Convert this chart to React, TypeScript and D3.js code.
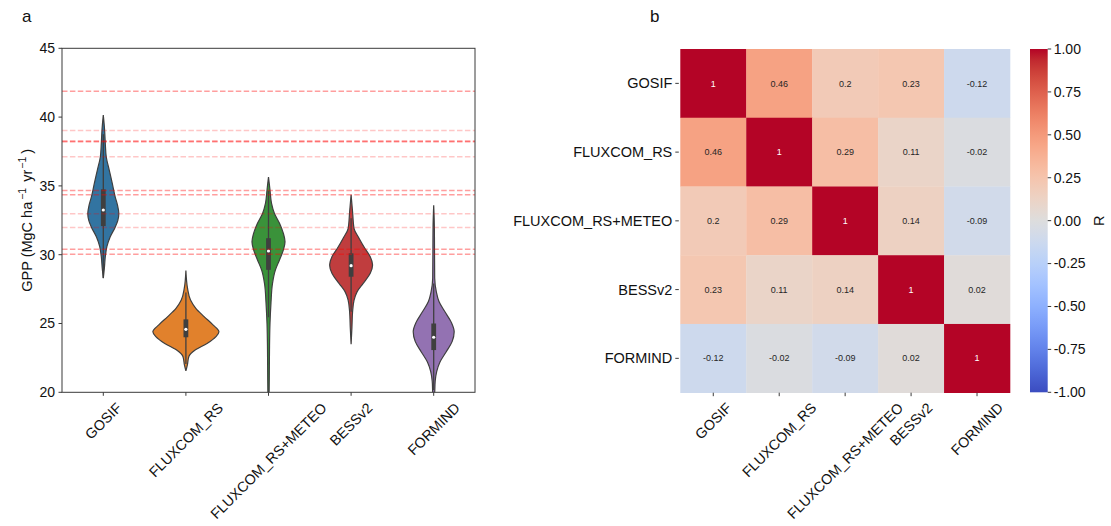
import React, { useEffect, useRef } from "react";
import * as d3 from "d3";

const W = 1111;
const H = 526;
const FONT = "'Liberation Sans', Arial, Helvetica, sans-serif";

// ---------- Panel a: GPP distributions ----------
const models = ["GOSIF", "FLUXCOM_RS", "FLUXCOM_RS+METEO", "BESSv2", "FORMIND"];
const gppTicks = [20, 25, 30, 35, 40, 45];
const violinFills = ["#3274a1", "#e1812c", "#3a923a", "#c03d3e", "#9372b2"];

// Kernel density profiles: [GPP, relative density]
const gosifDensity: [number, number][] = [
  [40.15, 0], [39.05, 0.04], [38.1, 0.06], [37.1, 0.09], [36.15, 0.18], [35.2, 0.27],
  [34.2, 0.36], [33.6, 0.43], [33.0, 0.47], [32.5, 0.44], [32.0, 0.36], [31.3, 0.21],
  [30.6, 0.11], [29.85, 0.06], [29.1, 0.035], [28.3, 0],
];
const fluxcomRsDensity: [number, number][] = [
  [28.85, 0], [27.55, 0.05], [26.7, 0.14], [26.1, 0.3], [25.5, 0.55], [24.9, 0.82],
  [24.4, 1.0], [24.05, 0.91], [23.55, 0.64], [23.05, 0.27], [22.6, 0.09], [22.0, 0.045],
  [21.55, 0],
];
const fluxcomMeteoDensity: [number, number][] = [
  [35.65, 0], [34.7, 0.045], [33.75, 0.09], [33.0, 0.18], [32.3, 0.33], [31.55, 0.45],
  [30.95, 0.5], [30.35, 0.45], [29.6, 0.33], [28.9, 0.21], [27.9, 0.12], [26.5, 0.075],
  [25.0, 0.045], [23.1, 0.03], [21.5, 0.025], [20.2, 0.02], [19.0, 0],
];
const bessDensity: [number, number][] = [
  [34.35, 0], [33.1, 0.045], [31.9, 0.09], [31.2, 0.24], [30.45, 0.42], [29.85, 0.58],
  [29.25, 0.65], [28.65, 0.58], [27.9, 0.36], [27.3, 0.18], [26.7, 0.09], [25.85, 0.045],
  [24.7, 0.025], [23.5, 0],
];
const formindDensity: [number, number][] = [
  [33.6, 0], [32.0, 0.02], [30.0, 0.025], [28.3, 0.03], [27.3, 0.08], [26.6, 0.16],
  [25.85, 0.34], [25.1, 0.53], [24.4, 0.62], [23.7, 0.56], [22.95, 0.38], [22.2, 0.19],
  [21.5, 0.09], [20.8, 0.045], [20.0, 0.03], [19.3, 0],
];
const densities = [gosifDensity, fluxcomRsDensity, fluxcomMeteoDensity, bessDensity, formindDensity];

// Box statistics per model
const quartile1 = [32.08, 24.0, 28.9, 28.4, 23.07];
const medians = [33.25, 24.58, 30.27, 29.2, 24.0];
const quartile3 = [34.75, 25.3, 31.2, 30.1, 25.0];
const whiskerLow = [28.3, 22.05, 25.45, 25.85, 20.17];
const whiskerHigh = [38.75, 27.25, 34.65, 32.65, 27.9];

// Horizontal reference levels (GPP)
const referenceLevelsStrong = [41.87, 38.27, 38.21, 34.66, 34.35, 30.4, 30.04];
const referenceLevelsFaint = [39.02, 37.12, 32.98, 31.97];

// ---------- Panel b: correlation matrix ----------
const corrLabels = ["GOSIF", "FLUXCOM_RS", "FLUXCOM_RS+METEO", "BESSv2", "FORMIND"];
const corrGosif = [1, 0.46, 0.2, 0.23, -0.12];
const corrFluxcomRs = [0.46, 1, 0.29, 0.11, -0.02];
const corrFluxcomMeteo = [0.2, 0.29, 1, 0.14, -0.09];
const corrBess = [0.23, 0.11, 0.14, 1, 0.02];
const corrFormind = [-0.12, -0.02, -0.09, 0.02, 1];
const corrRows = [corrGosif, corrFluxcomRs, corrFluxcomMeteo, corrBess, corrFormind];
const colorbarTicks = [1, 0.75, 0.5, 0.25, 0, -0.25, -0.5, -0.75, -1];

// Diverging "coolwarm" colour map stops
const coolwarm = [
  "#3b4cc0", "#445acc", "#4d68d7", "#5775e1", "#6282ea", "#6c8ef1", "#779af7", "#82a5fb",
  "#8db0fe", "#98b9ff", "#a3c2ff", "#aec9fd", "#b8d0f9", "#c2d5f4", "#ccd9ee", "#d5dbe6",
  "#dddddd", "#e5d8d1", "#ecd3c5", "#f1ccb9", "#f5c4ad", "#f7bba0", "#f7b194", "#f7a687",
  "#f49a7b", "#f18d6f", "#ec7f63", "#e57058", "#de604d", "#d55042", "#cb3e38", "#c0282f",
  "#b40426",
];

const LABEL_SIZE = 14.5;
const ROT_LABEL_SIZE = 14.3;
const TICK_SIZE = 14;

function rotatedLabel(
  g: d3.Selection<SVGGElement, unknown, null, undefined>,
  text: string,
  cx: number,
  top: number,
  size: number
) {
  const t = g
    .append("text")
    .attr("font-size", size)
    .attr("text-anchor", "middle")
    .attr("dominant-baseline", "central")
    .attr("fill", "#111")
    .text(text);
  const w = (t.node() as SVGTextElement).getComputedTextLength();
  const h = size * 0.9;
  const half = (w + h) / (2 * Math.SQRT2);
  t.attr("transform", `translate(${cx},${top + half}) rotate(-45)`);
}

export default function App() {
  const ref = useRef<SVGSVGElement>(null);

  useEffect(() => {
    const svg = d3.select(ref.current as SVGSVGElement);
    svg.selectAll("*").remove();
    svg.attr("font-family", FONT);

    // ================= Panel a =================
    const left = 62, right = 475, top = 48.3, bottom = 392.3;
    const x = d3.scaleBand<string>().domain(models).range([left, right]);
    const y = d3.scaleLinear().domain([20, 45]).range([bottom, top]);
    const halfWidth = d3.scaleLinear().domain([0, 1]).range([0, x.bandwidth() * 0.4]);
    const edge = "#3f3f3f";

    const ga = svg.append("g");
    ga.append("text").attr("x", 22).attr("y", 22).attr("font-size", 17).attr("fill", "#111").text("a");

    const defs = svg.append("defs");
    defs.append("clipPath").attr("id", "plot-a-clip")
      .append("rect").attr("x", left).attr("y", top).attr("width", right - left).attr("height", bottom - top);

    const plot = ga.append("g").attr("clip-path", "url(#plot-a-clip)");

    models.forEach((m, i) => {
      const cx = (x(m) as number) + x.bandwidth() / 2;
      const area = d3
        .area<[number, number]>()
        .y((d) => y(d[0]))
        .x0((d) => cx - halfWidth(d[1]))
        .x1((d) => cx + halfWidth(d[1]))
        .curve(d3.curveMonotoneY);
      plot.append("path")
        .attr("d", area(densities[i]) as string)
        .attr("fill", violinFills[i])
        .attr("stroke", edge)
        .attr("stroke-width", 1.2);
      plot.append("line")
        .attr("x1", cx).attr("x2", cx)
        .attr("y1", y(whiskerLow[i])).attr("y2", y(whiskerHigh[i]))
        .attr("stroke", edge).attr("stroke-width", 1.3);
      plot.append("rect")
        .attr("x", cx - 2.4).attr("width", 4.8)
        .attr("y", y(quartile3[i])).attr("height", y(quartile1[i]) - y(quartile3[i]))
        .attr("fill", edge);
      plot.append("circle")
        .attr("cx", cx).attr("cy", y(medians[i])).attr("r", 1.6).attr("fill", "#fff");
    });

    const dash = "5.5,2.4";
    referenceLevelsStrong.forEach((v) => {
      plot.append("line")
        .attr("x1", left).attr("x2", right).attr("y1", y(v)).attr("y2", y(v))
        .attr("stroke", "#ff0000").attr("stroke-opacity", 0.38)
        .attr("stroke-width", 1.5).attr("stroke-dasharray", dash);
    });
    referenceLevelsFaint.forEach((v) => {
      plot.append("line")
        .attr("x1", left).attr("x2", right).attr("y1", y(v)).attr("y2", y(v))
        .attr("stroke", "#ff0000").attr("stroke-opacity", 0.22)
        .attr("stroke-width", 1.5).attr("stroke-dasharray", dash);
    });

    // frame
    ga.append("rect")
      .attr("x", left).attr("y", top).attr("width", right - left).attr("height", bottom - top)
      .attr("fill", "none").attr("stroke", "#3a3a3a").attr("stroke-width", 1);

    // y axis ticks
    gppTicks.forEach((t) => {
      ga.append("line").attr("x1", left - 3.5).attr("x2", left).attr("y1", y(t)).attr("y2", y(t))
        .attr("stroke", "#3a3a3a");
      ga.append("text").attr("x", left - 7).attr("y", y(t)).attr("dy", "0.35em")
        .attr("text-anchor", "end").attr("font-size", TICK_SIZE).attr("fill", "#111").text(String(t));
    });
    // x axis ticks
    models.forEach((m) => {
      const cx = (x(m) as number) + x.bandwidth() / 2;
      ga.append("line").attr("x1", cx).attr("x2", cx).attr("y1", bottom).attr("y2", bottom + 3.5)
        .attr("stroke", "#3a3a3a");
      rotatedLabel(ga, m, cx, bottom + 8.5, ROT_LABEL_SIZE);
    });

    // y title
    const yt = ga.append("text")
      .attr("transform", `translate(32,${(top + bottom) / 2}) rotate(-90)`)
      .attr("text-anchor", "middle").attr("font-size", 14.5).attr("fill", "#111");
    yt.append("tspan").text("GPP (MgC ha");
    yt.append("tspan").attr("dx", 2).attr("dy", -6).attr("font-size", 10.5).text("\u22121");
    yt.append("tspan").attr("dx", 2).attr("dy", 6).text(" yr");
    yt.append("tspan").attr("dx", 1).attr("dy", -6).attr("font-size", 10.5).text("\u22121");
    yt.append("tspan").attr("dx", 3).attr("dy", 6).text(")");

    // ================= Panel b =================
    const hl = 680.3, hr = 1010, ht = 49, hb = 392.7;
    const gb = svg.append("g");
    gb.append("text").attr("x", 650).attr("y", 22).attr("font-size", 17).attr("fill", "#111").text("b");

    const cx2 = d3.scaleBand<string>().domain(corrLabels).range([hl, hr]);
    const cy2 = d3.scaleBand<string>().domain(corrLabels).range([ht, hb]);
    const color = d3
      .scaleLinear<string>()
      .domain(coolwarm.map((_, i) => -1 + (2 * i) / (coolwarm.length - 1)))
      .range(coolwarm)
      .interpolate(d3.interpolateRgb);

    corrRows.forEach((row, r) => {
      row.forEach((v, c) => {
        const x0 = cx2(corrLabels[c]) as number;
        const y0 = cy2(corrLabels[r]) as number;
        gb.append("rect")
          .attr("x", x0).attr("y", y0)
          .attr("width", cx2.bandwidth() + 0.3).attr("height", cy2.bandwidth() + 0.3)
          .attr("fill", color(v));
        gb.append("text")
          .attr("x", x0 + cx2.bandwidth() / 2).attr("y", y0 + cy2.bandwidth() / 2)
          .attr("dy", "0.35em").attr("text-anchor", "middle").attr("font-size", 9)
          .attr("fill", v > 0.8 ? "#ffffff" : "#262626")
          .text(String(v));
      });
    });

    corrLabels.forEach((lab) => {
      const yc = (cy2(lab) as number) + cy2.bandwidth() / 2;
      gb.append("line").attr("x1", hl - 5).attr("x2", hl - 1.5).attr("y1", yc).attr("y2", yc)
        .attr("stroke", "#3a3a3a");
      gb.append("text").attr("x", hl - 8).attr("y", yc).attr("dy", "0.35em")
        .attr("text-anchor", "end").attr("font-size", LABEL_SIZE).attr("fill", "#111").text(lab);
      const xc = (cx2(lab) as number) + cx2.bandwidth() / 2;
      gb.append("line").attr("x1", xc).attr("x2", xc).attr("y1", hb).attr("y2", hb + 3.5)
        .attr("stroke", "#3a3a3a");
      rotatedLabel(gb, lab, xc, hb + 8, ROT_LABEL_SIZE);
    });

    // colour bar
    const cbl = 1030, cbw = 17.7, cbt = 49, cbb = 392.3;
    const grad = defs.append("linearGradient").attr("id", "cb-grad")
      .attr("x1", 0).attr("x2", 0).attr("y1", 1).attr("y2", 0);
    coolwarm.forEach((c, i) => {
      grad.append("stop").attr("offset", i / (coolwarm.length - 1)).attr("stop-color", c);
    });
    gb.append("rect").attr("x", cbl).attr("y", cbt).attr("width", cbw).attr("height", cbb - cbt)
      .attr("fill", "url(#cb-grad)");
    const cbScale = d3.scaleLinear().domain([-1, 1]).range([cbb, cbt]);
    colorbarTicks.forEach((t) => {
      gb.append("line").attr("x1", cbl + cbw).attr("x2", cbl + cbw + 3.5)
        .attr("y1", cbScale(t)).attr("y2", cbScale(t)).attr("stroke", "#3a3a3a");
      gb.append("text").attr("x", cbl + cbw + 6).attr("y", cbScale(t)).attr("dy", "0.35em")
        .attr("font-size", TICK_SIZE).attr("fill", "#111").text(d3.format(".2f")(t).replace("\u2212", "-"));
    });
    gb.append("text")
      .attr("transform", `translate(1104,${(cbt + cbb) / 2}) rotate(-90)`)
      .attr("text-anchor", "middle").attr("font-size", 14.5).attr("fill", "#111").text("R");
  }, []);

  return (
    <svg
      ref={ref}
      width={W}
      height={H}
      style={{ position: "absolute", left: 0, top: 0, background: "#ffffff" }}
    />
  );
}
